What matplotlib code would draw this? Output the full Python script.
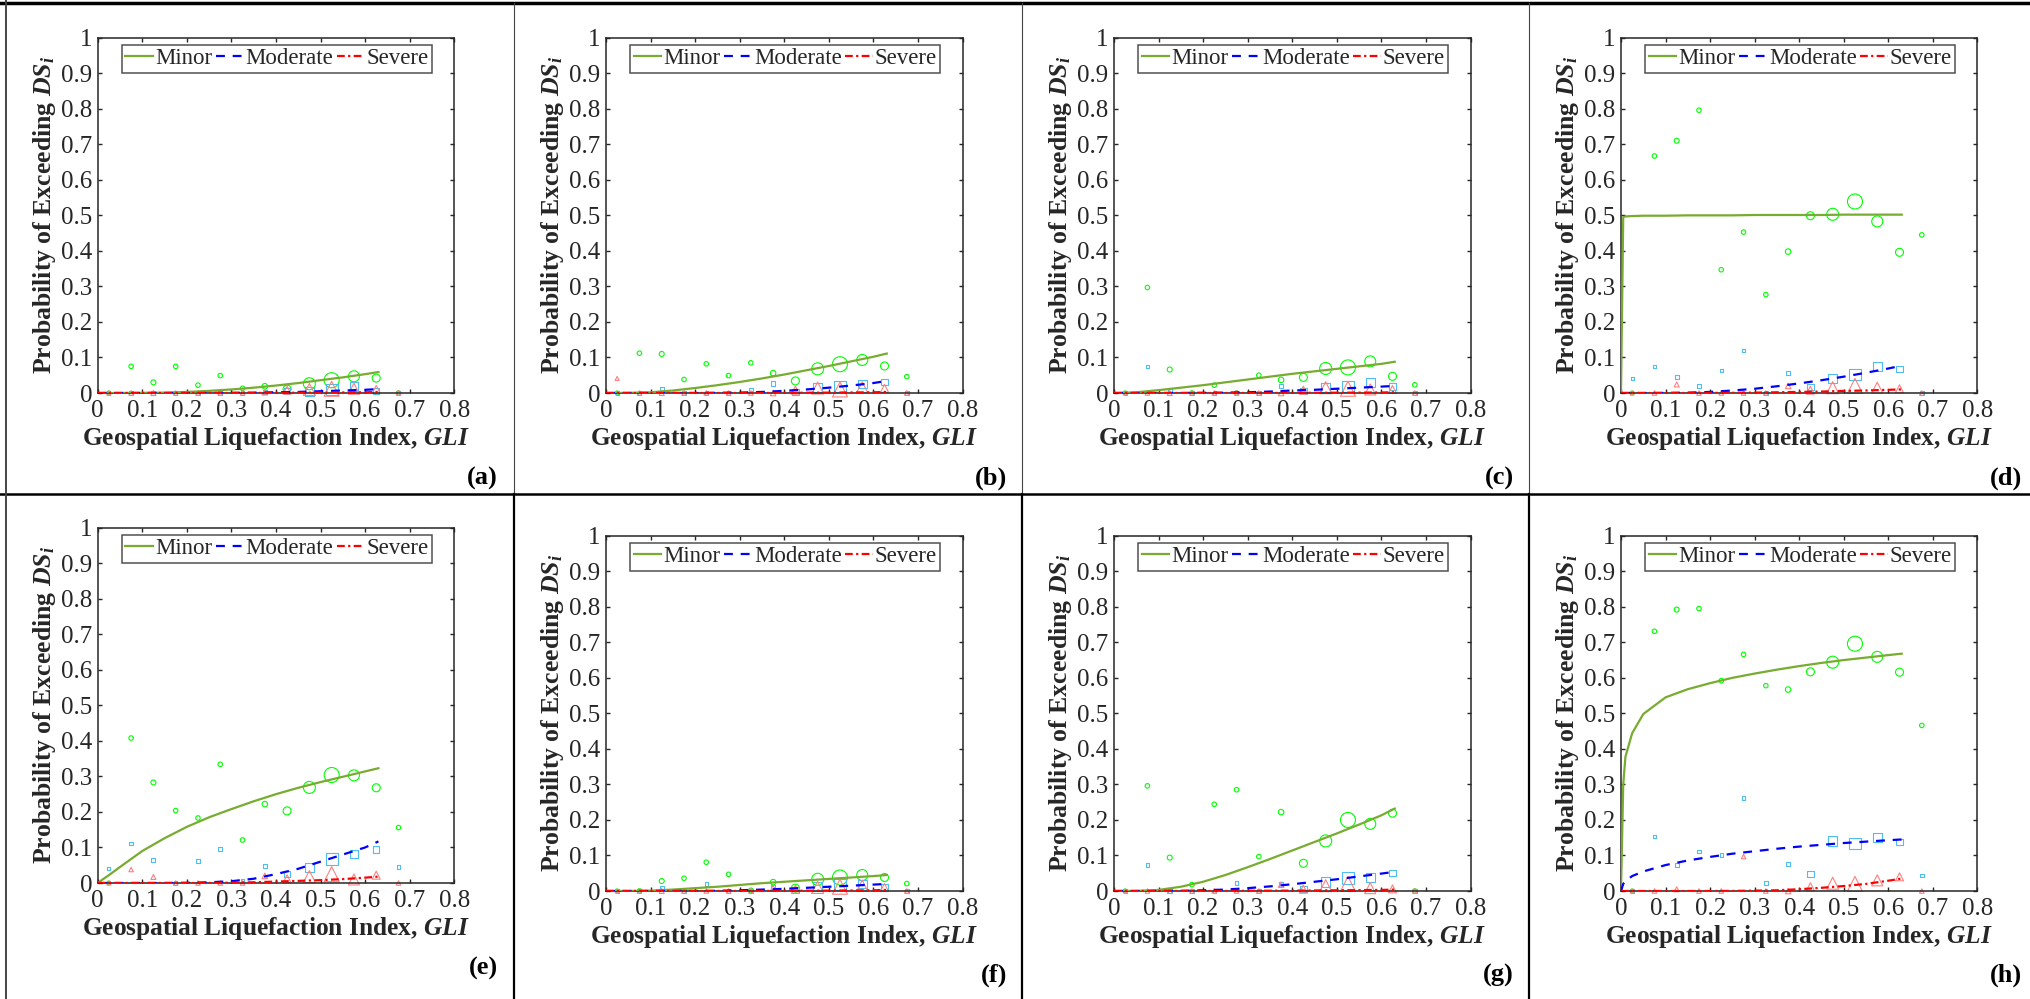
import matplotlib
matplotlib.use("Agg")
import matplotlib.pyplot as plt
from matplotlib.lines import Line2D
import numpy as np

plt.rcParams['font.family'] = 'serif'
plt.rcParams['font.serif'] = ['Liberation Serif', 'TeX Gyre Termes', 'DejaVu Serif']
plt.rcParams['mathtext.fontset'] = 'custom'
plt.rcParams['mathtext.it'] = 'Liberation Serif:bold:italic'
plt.rcParams['mathtext.rm'] = 'Liberation Serif:bold'
plt.rcParams['mathtext.bf'] = 'Liberation Serif:bold'

# GLI bin centres for the observed points
bins = [0.025, 0.075, 0.125, 0.175, 0.225, 0.275, 0.325, 0.375, 0.425, 0.475, 0.525, 0.575, 0.625, 0.675]
# relative marker size per bin (number of sites), px diameter
bin_size = [4, 4.5, 5, 4.5, 4.5, 4.5, 4.5, 5.5, 8, 12, 15, 11, 8, 4.5]

# GLI values where the fitted curves were read
curve_x = [0, 0.005, 0.01, 0.025, 0.05, 0.1, 0.15, 0.2, 0.25, 0.3, 0.35, 0.4, 0.45, 0.5, 0.55, 0.6, 0.63]

# panel (a)
a_circ = [0, 0.075, 0.030, 0.075, 0.022, 0.049, 0.013, 0.019, 0.011, 0.026, 0.036, 0.047, 0.042, 0]
a_sq = [0, 0, 0, 0, 0, 0, 0, 0.003, 0.005, 0.005, 0.010, 0.019, 0.006, 0]
a_tri = [0, 0, 0, 0, 0, 0, 0, 0.002, 0.008, 0.010, 0.012, 0.012, 0.010, 0]
a_minor = [0, 0, 0, 0, 0, 0.0005, 0.001, 0.003, 0.006, 0.010, 0.015, 0.021, 0.028, 0.036, 0.044, 0.053, 0.059]
a_mod = [0, 0, 0, 0, 0, 0, 0, 0, 0, 0.0005, 0.001, 0.002, 0.003, 0.005, 0.007, 0.009, 0.011]
a_sev = [0, 0, 0, 0, 0, 0, 0, 0, 0, 0, 0, 0.0005, 0.0008, 0.001, 0.0015, 0.002, 0.003]

# panel (b)
b_circ = [0, 0.112, 0.110, 0.038, 0.082, 0.049, 0.085, 0.056, 0.034, 0.068, 0.081, 0.093, 0.076, 0.046]
b_sq = [0, 0, 0.012, 0, 0, 0, 0.010, 0.027, 0.003, 0.015, 0.018, 0.025, 0.030, 0]
b_tri = [0.041, 0, 0, 0, 0, 0, 0, 0, 0.008, 0.014, 0.010, 0.016, 0.013, 0]
b_minor = [0, 0, 0, 0, 0.0003, 0.002, 0.007, 0.014, 0.022, 0.031, 0.041, 0.052, 0.064, 0.076, 0.089, 0.102, 0.111]
b_mod = [0, 0, 0, 0, 0, 0, 0, 0, 0.0005, 0.001, 0.003, 0.006, 0.010, 0.015, 0.021, 0.028, 0.034]
b_sev = [0, 0, 0, 0, 0, 0, 0, 0, 0, 0, 0, 0.0005, 0.0008, 0.001, 0.0015, 0.002, 0.003]

# panel (c)
c_circ = [0, 0.297, 0.066, 0, 0.022, 0, 0.050, 0.037, 0.044, 0.069, 0.072, 0.089, 0.047, 0.023]
c_sq = [0, 0.075, 0.008, 0, 0, 0, 0, 0.020, 0.005, 0.015, 0.018, 0.030, 0.018, 0]
c_tri = [0, 0, 0, 0, 0, 0, 0, 0, 0.008, 0.015, 0.012, 0.010, 0.010, 0]
c_minor = [0, 0, 0.0001, 0.0008, 0.002, 0.008, 0.015, 0.022, 0.030, 0.038, 0.046, 0.054, 0.061, 0.068, 0.075, 0.082, 0.088]
c_mod = [0, 0, 0, 0, 0, 0, 0, 0.0005, 0.001, 0.002, 0.004, 0.007, 0.009, 0.012, 0.015, 0.018, 0.020]
c_sev = [0, 0, 0, 0, 0, 0, 0, 0, 0, 0, 0, 0.0003, 0.0005, 0.0008, 0.001, 0.0015, 0.002]

# panel (d)
d_circ = [0, 0.667, 0.710, 0.796, 0.347, 0.453, 0.277, 0.398, 0.499, 0.503, 0.539, 0.483, 0.396, 0.445]
d_sq = [0.040, 0.075, 0.045, 0.019, 0.063, 0.120, 0, 0.056, 0.016, 0.040, 0.052, 0.074, 0.067, 0]
d_tri = [0, 0, 0.024, 0, 0, 0, 0, 0.020, 0.008, 0.015, 0.020, 0.015, 0.012, 0]
d_minor = [0, 0.495, 0.497, 0.498, 0.499, 0.499, 0.500, 0.500, 0.500, 0.501, 0.501, 0.501, 0.501, 0.502, 0.502, 0.502, 0.502]
d_mod = [0, 0, 0, 0, 0, 0.0003, 0.001, 0.003, 0.007, 0.012, 0.019, 0.027, 0.036, 0.046, 0.057, 0.069, 0.077]
d_sev = [0, 0, 0, 0, 0, 0, 0, 0.0003, 0.0006, 0.001, 0.002, 0.003, 0.004, 0.006, 0.007, 0.009, 0.010]

# panel (e)
e_circ = [0, 0.408, 0.283, 0.204, 0.183, 0.334, 0.121, 0.222, 0.203, 0.269, 0.304, 0.303, 0.268, 0.156]
e_sq = [0.040, 0.111, 0.065, 0, 0.062, 0.096, 0.005, 0.047, 0.026, 0.044, 0.067, 0.082, 0.094, 0.045]
e_tri = [0, 0.038, 0.017, 0, 0, 0, 0, 0.020, 0.012, 0.018, 0.025, 0.010, 0.022, 0]
e_minor = [0, 0.004, 0.009, 0.022, 0.045, 0.090, 0.126, 0.158, 0.185, 0.208, 0.230, 0.250, 0.268, 0.284, 0.299, 0.314, 0.323]
e_mod = [0, 0, 0, 0, 0, 0, 0, 0.0005, 0.002, 0.005, 0.012, 0.025, 0.040, 0.060, 0.080, 0.100, 0.117]
e_sev = [0, 0, 0, 0, 0, 0, 0, 0, 0, 0.001, 0.002, 0.004, 0.006, 0.008, 0.011, 0.015, 0.018]

# panel (f)
f_circ = [0, 0, 0.028, 0.036, 0.081, 0.047, 0.002, 0.025, 0.008, 0.033, 0.038, 0.045, 0.038, 0.021]
f_sq = [0, 0, 0.008, 0, 0.020, 0, 0, 0.012, 0.003, 0.012, 0.018, 0.020, 0.010, 0]
f_tri = [0, 0, 0, 0, 0, 0, 0, 0.008, 0.005, 0.010, 0.012, 0.015, 0.010, 0]
f_minor = [0, 0, 0, 0, 0, 0.001, 0.004, 0.008, 0.012, 0.017, 0.022, 0.026, 0.030, 0.034, 0.038, 0.042, 0.045]
f_mod = [0, 0, 0, 0, 0, 0, 0, 0, 0.0005, 0.002, 0.004, 0.006, 0.009, 0.012, 0.015, 0.018, 0.020]
f_sev = [0, 0, 0, 0, 0, 0, 0, 0, 0, 0, 0, 0.0005, 0.0008, 0.001, 0.0015, 0.002, 0.003]

# panel (g)
g_circ = [0, 0.296, 0.094, 0.018, 0.244, 0.285, 0.097, 0.222, 0.078, 0.141, 0.200, 0.189, 0.219, 0]
g_sq = [0, 0.073, 0, 0, 0, 0.022, 0, 0.018, 0.005, 0.025, 0.037, 0.038, 0.050, 0]
g_tri = [0, 0, 0, 0, 0, 0, 0, 0.018, 0.005, 0.015, 0.020, 0.008, 0.006, 0]
g_minor = [0, 0, 0, 0, 0.0002, 0.003, 0.012, 0.026, 0.045, 0.067, 0.090, 0.114, 0.138, 0.162, 0.187, 0.213, 0.232]
g_mod = [0, 0, 0, 0, 0, 0, 0.0005, 0.002, 0.004, 0.008, 0.013, 0.019, 0.026, 0.033, 0.041, 0.049, 0.054]
g_sev = [0, 0, 0, 0, 0, 0, 0, 0, 0, 0.0005, 0.0008, 0.001, 0.0015, 0.002, 0.0025, 0.003, 0.004]

# panel (h)
h_circ = [0, 0.731, 0.792, 0.795, 0.592, 0.666, 0.578, 0.567, 0.617, 0.644, 0.696, 0.659, 0.616, 0.466]
h_sq = [0, 0.153, 0.073, 0.111, 0.101, 0.262, 0.023, 0.076, 0.048, 0.141, 0.134, 0.150, 0.137, 0.044]
h_tri = [0, 0, 0.005, 0, 0, 0.097, 0, 0, 0.012, 0.022, 0.020, 0.030, 0.040, 0]
h_minor = [0, 0.300, 0.378, 0.444, 0.498, 0.545, 0.568, 0.585, 0.600, 0.612, 0.623, 0.633, 0.642, 0.650, 0.657, 0.664, 0.668]
h_mod = [0, 0.020, 0.028, 0.042, 0.055, 0.073, 0.086, 0.096, 0.105, 0.112, 0.119, 0.125, 0.130, 0.135, 0.139, 0.143, 0.145]
h_sev = [0, 0, 0, 0, 0, 0, 0, 0, 0.0003, 0.001, 0.002, 0.005, 0.009, 0.014, 0.020, 0.029, 0.035]

panels = [
    ('(a)', a_circ, a_sq, a_tri, a_minor, a_mod, a_sev),
    ('(b)', b_circ, b_sq, b_tri, b_minor, b_mod, b_sev),
    ('(c)', c_circ, c_sq, c_tri, c_minor, c_mod, c_sev),
    ('(d)', d_circ, d_sq, d_tri, d_minor, d_mod, d_sev),
    ('(e)', e_circ, e_sq, e_tri, e_minor, e_mod, e_sev),
    ('(f)', f_circ, f_sq, f_tri, f_minor, f_mod, f_sev),
    ('(g)', g_circ, g_sq, g_tri, g_minor, g_mod, g_sev),
    ('(h)', h_circ, h_sq, h_tri, h_minor, h_mod, h_sev),
]

W, H = 2030, 999
fig = plt.figure(figsize=(W / 100, H / 100), dpi=100)

# axes boxes in pixels: left, top
lefts = [97.7, 606, 1114, 1621]
tops = [37.7, 37.7, 37.7, 37.7, 527.7, 535.7, 535.7, 535.7]
aw, ah = 356.5, 355.3
label_right = [498, 1007, 1514, 2022]
label_y = [478, 478, 478, 478, 968, 975, 975, 975]

axcol = '#262626'
sz = np.array(bin_size) * 0.72  # px -> pt

for i, (tag, circ, sq, tri, mi, mo, se) in enumerate(panels):
    col = i % 4
    l = lefts[col]
    t = tops[i]
    ax = fig.add_axes([l / W, (H - t - ah) / H, aw / W, ah / H])

    ax.scatter(bins, circ, s=sz ** 2, marker='o', facecolors='none',
               edgecolors='#00FF00', linewidths=0.8, clip_on=False, zorder=2)
    ax.scatter(bins, sq, s=(sz * 0.78) ** 2, marker='s', facecolors='none',
               edgecolors='#4DBEEE', linewidths=0.8, clip_on=False, zorder=2)
    ax.scatter(bins, tri, s=sz ** 2, marker='^', facecolors='none',
               edgecolors='#FF8080', linewidths=0.8, clip_on=False, zorder=2)

    ax.plot(curve_x, mi, color='#77AC30', lw=1.6, label='Minor', zorder=3)
    ax.plot(curve_x, mo, color='#0000FF', lw=1.6, dashes=(4, 3.5), label='Moderate', zorder=3)
    ax.plot(curve_x, se, color='#FF0000', lw=1.6, dashes=(3.5, 1.5, 1, 1.5), label='Severe', zorder=3)

    ax.set_xlim(0, 0.8)
    ax.set_ylim(0, 1)
    ax.set_xticks(np.arange(0, 0.81, 0.1))
    ax.set_xticklabels(['0', '0.1', '0.2', '0.3', '0.4', '0.5', '0.6', '0.7', '0.8'])
    ax.set_yticks(np.arange(0, 1.01, 0.1))
    ax.set_yticklabels(['0', '0.1', '0.2', '0.3', '0.4', '0.5', '0.6', '0.7', '0.8', '0.9', '1'])
    ax.tick_params(direction='in', top=True, right=True, length=3, width=1,
                   color=axcol, labelsize=18, labelcolor=axcol)
    ax.tick_params(axis='y', pad=4)
    ax.tick_params(axis='x', pad=5)
    for sp in ax.spines.values():
        sp.set_color(axcol)
        sp.set_linewidth(1.1)

    ax.set_xlabel('Geospatial Liquefaction Index, $GLI$', fontsize=18.3,
                  fontweight='bold', color=axcol, labelpad=2)
    ax.set_ylabel('Probability of Exceeding $DS_i$', fontsize=18.5,
                  fontweight='bold', color=axcol, labelpad=2)

    leg = ax.legend(loc='upper center', bbox_to_anchor=(0.503, 0.98), ncol=3,
                    fontsize=16.5, handlelength=1.2, handletextpad=0.1,
                    columnspacing=0.15, borderpad=0.15, borderaxespad=0,
                    frameon=True, fancybox=False)
    leg.get_frame().set_edgecolor(axcol)
    leg.get_frame().set_linewidth(1.1)
    for txt in leg.get_texts():
        txt.set_color(axcol)

    fig.text(label_right[col] / W, 1 - label_y[i] / H, tag, ha='right', va='center',
             fontsize=19, fontweight='bold')

# table rules around the panels
def hline(y, x0, x1, lw, c='black'):
    fig.add_artist(Line2D([x0 / W, x1 / W], [1 - y / H, 1 - y / H], lw=lw, color=c))

def vline(x, y0, y1, lw, c='black'):
    fig.add_artist(Line2D([x / W, x / W], [1 - y0 / H, 1 - y1 / H], lw=lw, color=c))

hline(3, 0, W, 2.5)
hline(494, 0, W, 1.8)
vline(6, 0, H, 1.4, '#444444')
for x in [514, 1022, 1529]:
    vline(x, 3, 494, 0.8, '#444444')
    vline(x, 494, H, 1.6)

fig.savefig('out.png', dpi=100)
